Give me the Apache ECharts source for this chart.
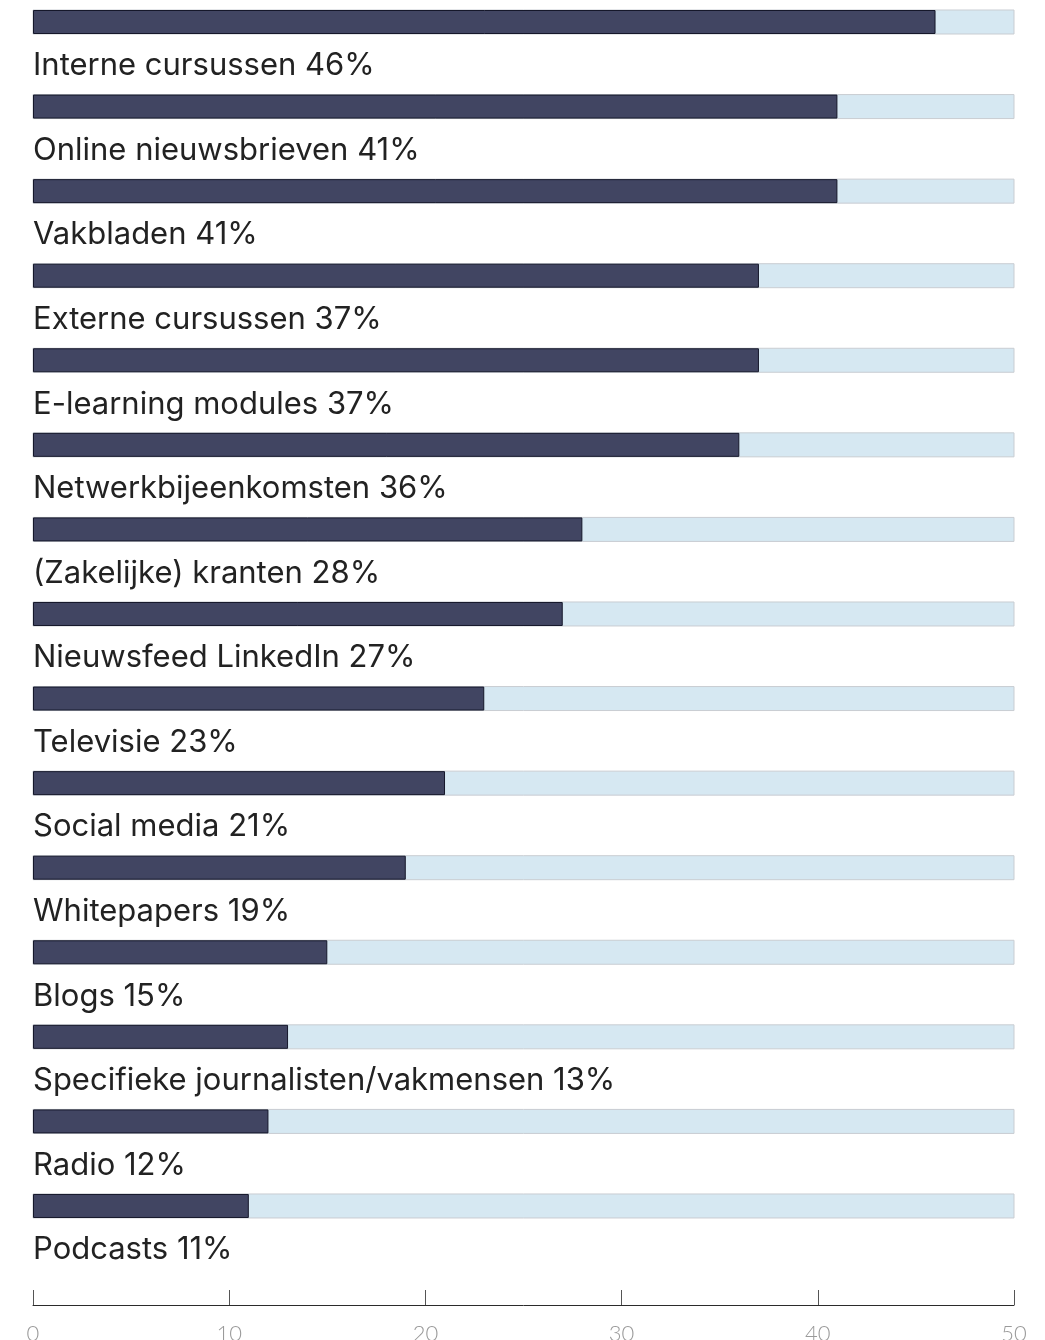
<!DOCTYPE html>
<html>
<head>
<meta charset="utf-8">
<style>
  html, body { margin: 0; padding: 0; background: #ffffff; }
  #chart { width: 1045px; height: 1340px; }
</style>
<script src="https://cdn.jsdelivr.net/npm/echarts@6/dist/echarts.min.js"></script>
</head>
<body>
<div id="chart"></div>
<script>
// Information sources, share of respondents (%)
const categories = [
  'Interne cursussen', 'Online nieuwsbrieven', 'Vakbladen', 'Externe cursussen',
  'E-learning modules', 'Netwerkbijeenkomsten', '(Zakelijke) kranten', 'Nieuwsfeed LinkedIn',
  'Televisie', 'Social media', 'Whitepapers', 'Blogs',
  'Specifieke journalisten/vakmensen', 'Radio', 'Podcasts'
];
const values = [46, 41, 41, 37, 37, 36, 28, 27, 23, 21, 19, 15, 13, 12, 11];
const axisMax = 50;
const axisStep = 10;

const chart = echarts.init(document.getElementById('chart'), null, { renderer: 'canvas' });

// each category band holds one bar followed by its caption
const band = 84.57;
const firstCenter = 22;
const gridTop = firstCenter - band / 2;
const gridBottomEdge = gridTop + band * categories.length;

chart.setOption({
  animation: false,
  grid: {
    left: 33,
    right: 31,
    top: gridTop,
    height: band * categories.length,
    containLabel: false,
    outerBoundsMode: 'none'
  },
  xAxis: {
    type: 'value',
    min: 0,
    max: axisMax,
    interval: axisStep,
    offset: 1305 - gridBottomEdge,
    splitLine: { show: false },
    axisLine: { show: true, lineStyle: { color: '#2b2b2b', width: 1 } },
    axisTick: { show: true, inside: true, length: 15, lineStyle: { color: '#555555', width: 1 } },
    axisLabel: {
      color: '#9a9a9a',
      fontFamily: 'Lato',
      fontWeight: 300,
      fontSize: 22,
      margin: 18
    }
  },
  yAxis: {
    type: 'category',
    data: categories,
    inverse: true,
    axisLine: { show: false },
    axisTick: { show: false },
    axisLabel: { show: false }
  },
  series: [{
    type: 'bar',
    data: values,
    barWidth: 24,
    showBackground: true,
    backgroundStyle: {
      color: '#d6e8f2',
      borderColor: '#c9cdd2',
      borderWidth: 1
    },
    itemStyle: {
      color: '#414562',
      borderColor: '#15172a',
      borderWidth: 1
    },
    label: {
      show: true,
      position: [0, 56],
      verticalAlign: 'middle',
      align: 'left',
      formatter: p => p.name + ' ' + p.value + '%',
      color: '#222222',
      fontFamily: 'Inter',
      fontSize: 31
    }
  }]
});
</script>
</body>
</html>
